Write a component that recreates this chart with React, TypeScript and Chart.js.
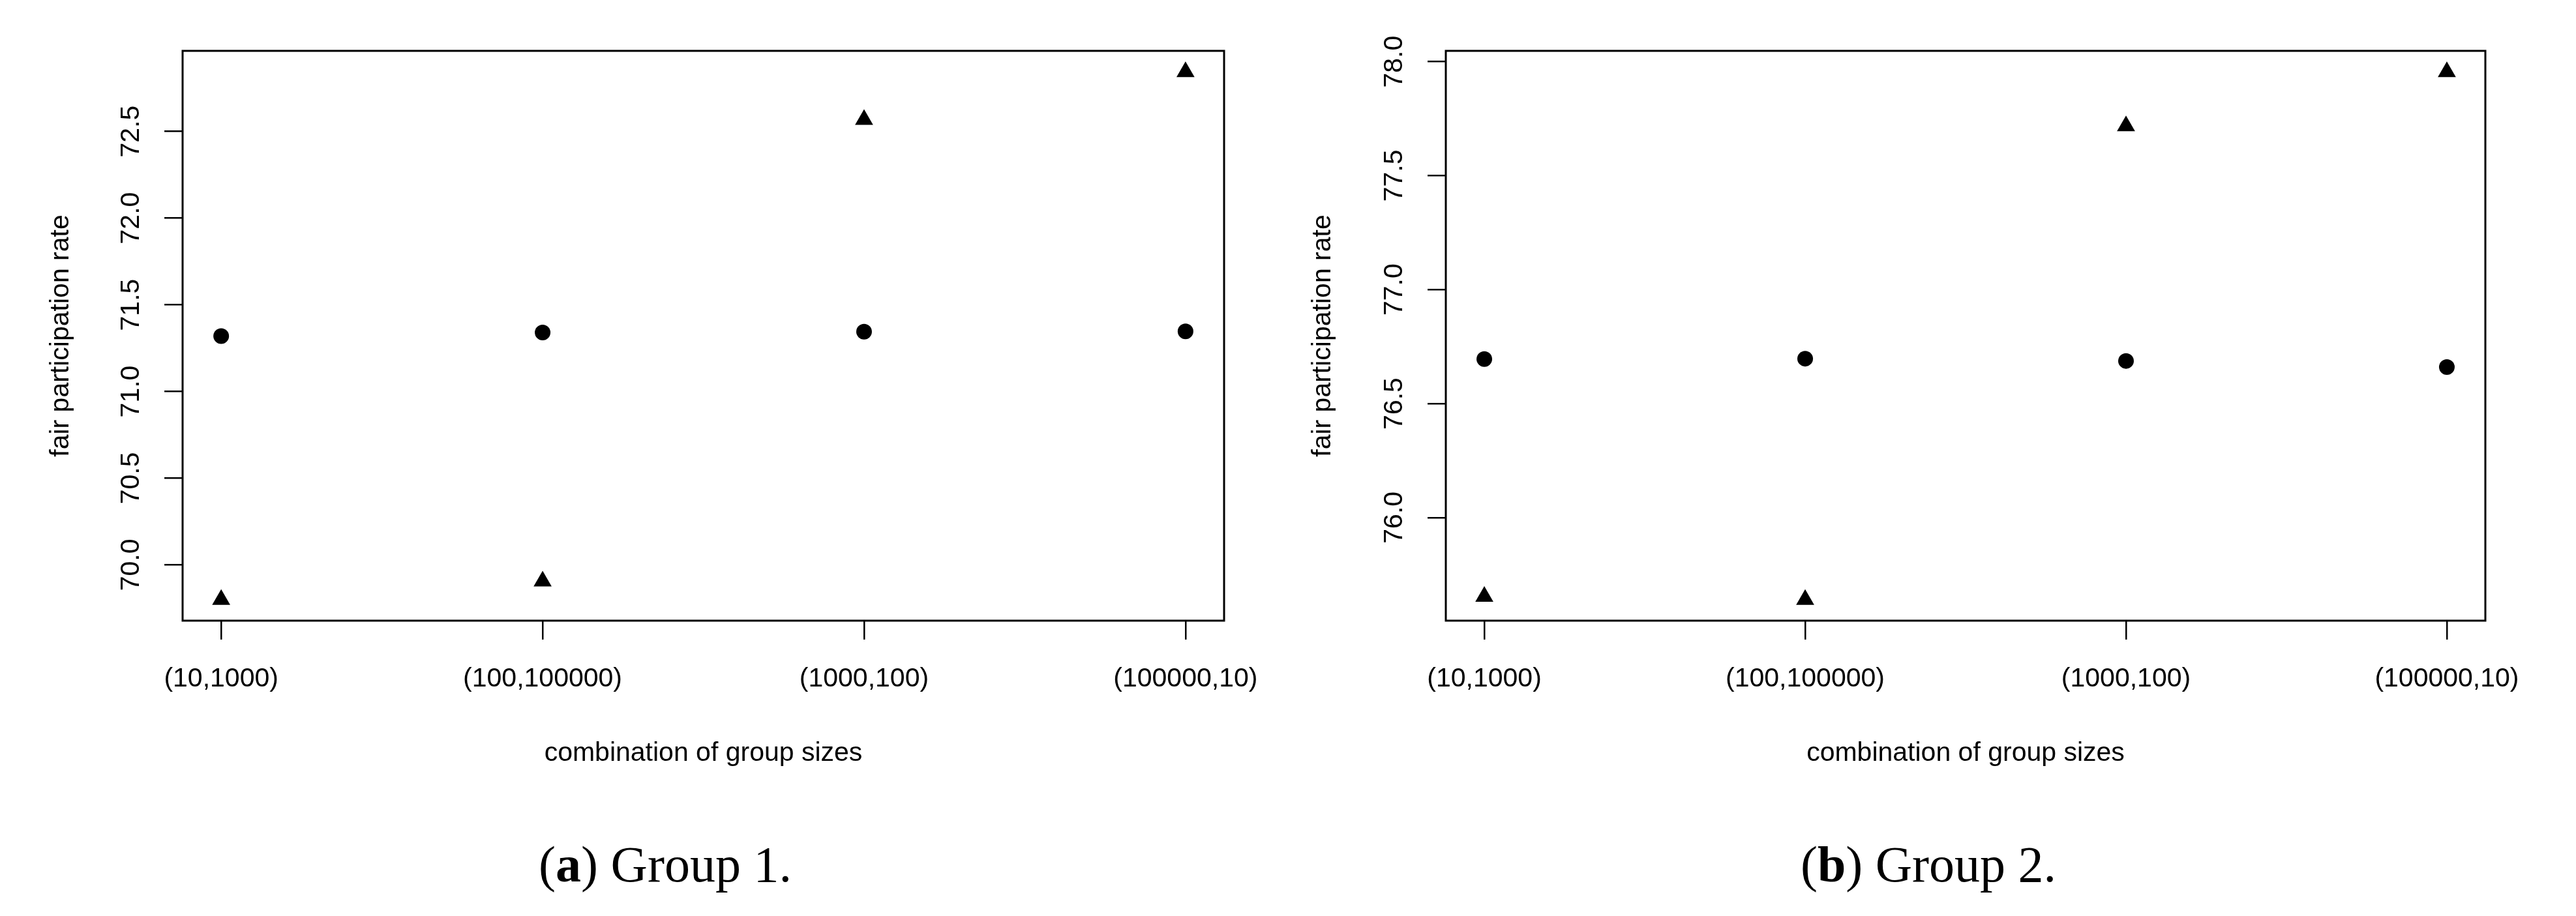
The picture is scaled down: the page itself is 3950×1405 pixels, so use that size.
import React, { useEffect, useRef } from 'react';
import { Chart, registerables } from 'chart.js';

Chart.register(...registerables);

// ---- data ----
const categories = ['(10,1000)', '(100,100000)', '(1000,100)', '(100000,10)'];
const categoryPositions = [1, 2, 3, 4];

const group1Circles = [71.32, 71.34, 71.345, 71.347];
const group1Triangles = [69.8, 69.906, 72.568, 72.843];

const group2Circles = [76.695, 76.697, 76.687, 76.66];
const group2Triangles = [75.653, 75.64, 77.718, 77.955];

const group1YTicks = [70.0, 70.5, 71.0, 71.5, 72.0, 72.5];
const group2YTicks = [76.0, 76.5, 77.0, 77.5, 78.0];

const xAxisTitle = 'combination of group sizes';
const yAxisTitle = 'fair participation rate';

const captionLetters = ['a', 'b'];
const captionTexts = ['Group 1.', 'Group 2.'];

// ---- helpers ----
const SANS = '"Liberation Sans", Arial, Helvetica, sans-serif';
const SERIF = '"Liberation Serif", "Times New Roman", serif';

function rRange(values: number[]): [number, number] {
  const mn = Math.min(...values);
  const mx = Math.max(...values);
  const d = (mx - mn) * 0.04;
  return [mn - d, mx + d];
}

const boxPlugin = {
  id: 'rbox',
  afterDatasetsDraw(chart: any) {
    const { ctx, chartArea } = chart;
    const { left, top, right, bottom } = chartArea;
    ctx.save();
    ctx.strokeStyle = '#000';
    ctx.lineWidth = 3;
    ctx.strokeRect(left, top, right - left, bottom - top);
    ctx.restore();
  },
};

type PanelProps = {
  circles: number[];
  triangles: number[];
  yTicks: number[];
  yScaleWidth: number;
  rightPad: number;
  yTitlePad: number;
  canvasLeft: number;
};

const CANVAS_W = 1975;
const CANVAS_H = 1250;
const PLOT_TOP = 78;
const PLOT_BOTTOM = 952;

function Panel({ circles, triangles, yTicks, yScaleWidth, rightPad, yTitlePad, canvasLeft }: PanelProps) {
  const ref = useRef<HTMLCanvasElement | null>(null);

  useEffect(() => {
    if (!ref.current) return;
    const [ymin, ymax] = rRange([...circles, ...triangles]);
    const [xmin, xmax] = rRange(categoryPositions);

    const chart = new Chart(ref.current, {
      type: 'scatter',
      data: {
        datasets: [
          {
            label: 'circles',
            data: categoryPositions.map((x, i) => ({ x, y: circles[i] })),
            pointStyle: 'circle',
            pointRadius: 12,
            pointBackgroundColor: '#000',
            pointBorderWidth: 0,
            borderColor: '#000',
            showLine: false,
          },
          {
            label: 'triangles',
            data: categoryPositions.map((x, i) => ({ x, y: triangles[i] })),
            pointStyle: 'triangle',
            pointRadius: 16,
            pointBackgroundColor: '#000',
            pointBorderWidth: 0,
            borderColor: '#000',
            showLine: false,
          },
        ],
      },
      options: {
        animation: false,
        responsive: false,
        devicePixelRatio: 1,
        events: [],
        layout: {
          padding: { left: 0, top: PLOT_TOP, right: rightPad, bottom: 0 },
        },
        plugins: {
          legend: { display: false },
          tooltip: { enabled: false },
        },
        scales: {
          x: {
            type: 'linear',
            min: xmin,
            max: xmax,
            afterBuildTicks: (scale: any) => {
              scale.ticks = categoryPositions.map((v) => ({ value: v }));
            },
            afterFit: (scale: any) => {
              scale.height = CANVAS_H - PLOT_BOTTOM;
            },
            border: { display: false },
            grid: {
              display: true,
              drawOnChartArea: false,
              drawTicks: true,
              tickLength: 29,
              color: '#000',
              lineWidth: 2.5,
            },
            ticks: {
              autoSkip: false,
              maxRotation: 0,
              minRotation: 0,
              padding: 36,
              color: '#000',
              font: { family: SANS, size: 41 },
              callback: (v: any) => {
                const idx = categoryPositions.indexOf(Number(v));
                return idx >= 0 ? categories[idx] : '';
              },
            },
            title: {
              display: true,
              text: xAxisTitle,
              color: '#000',
              font: { family: SANS, size: 41 },
              padding: { top: 0, bottom: 70 },
            },
          },
          y: {
            type: 'linear',
            min: ymin,
            max: ymax,
            afterBuildTicks: (scale: any) => {
              scale.ticks = yTicks.map((v) => ({ value: v }));
            },
            afterFit: (scale: any) => {
              scale.width = yScaleWidth;
            },
            border: { display: false },
            grid: {
              display: true,
              drawOnChartArea: false,
              drawTicks: true,
              tickLength: 28,
              color: '#000',
              lineWidth: 2.5,
            },
            ticks: {
              minRotation: 90,
              maxRotation: 90,
              crossAlign: 'center',
              padding: 10,
              color: '#000',
              font: { family: SANS, size: 41 },
              callback: (v: any) => Number(v).toFixed(1),
            },
            title: {
              display: true,
              text: yAxisTitle,
              color: '#000',
              font: { family: SANS, size: 41 },
              padding: { top: yTitlePad, bottom: 0 },
            },
          },
        },
      },
      plugins: [boxPlugin],
    } as any);

    return () => chart.destroy();
  }, [circles, triangles, yTicks, yScaleWidth, rightPad, yTitlePad]);

  return (
    <canvas
      ref={ref}
      width={CANVAS_W}
      height={CANVAS_H}
      style={{ position: 'absolute', left: canvasLeft, top: 0, width: CANVAS_W, height: CANVAS_H, display: 'block' }}
    />
  );
}

function Caption({ letter, text, centerX }: { letter: string; text: string; centerX: number }) {
  return (
    <div
      style={{
        position: 'absolute',
        left: centerX - 400,
        width: 800,
        top: 1287,
        textAlign: 'center',
        fontFamily: SERIF,
        fontSize: 78,
        lineHeight: '78px',
        color: '#000',
        whiteSpace: 'nowrap',
      }}
    >
      (<b>{letter}</b>) {text}
    </div>
  );
}

export default function App() {
  return (
    <div
      style={{
        position: 'absolute',
        left: 0,
        top: 0,
        width: 3950,
        height: 1405,
        background: '#fff',
        overflow: 'hidden',
      }}
    >
      <Panel
        circles={group1Circles}
        triangles={group1Triangles}
        yTicks={group1YTicks}
        yScaleWidth={280}
        rightPad={98}
        yTitlePad={69}
        canvasLeft={0}
      />
      <Panel
        circles={group2Circles}
        triangles={group2Triangles}
        yTicks={group2YTicks}
        yScaleWidth={242}
        rightPad={139}
        yTitlePad={29}
        canvasLeft={1975}
      />
      <Caption letter={captionLetters[0]} text={captionTexts[0]} centerX={1020} />
      <Caption letter={captionLetters[1]} text={captionTexts[1]} centerX={2957} />
    </div>
  );
}
